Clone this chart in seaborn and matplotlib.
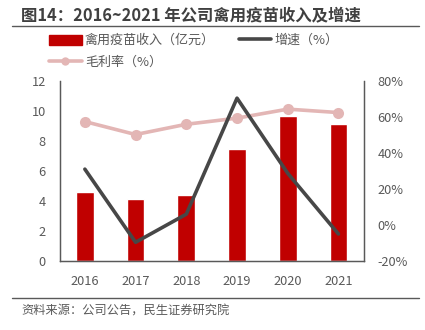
import matplotlib
matplotlib.use("Agg")
import matplotlib.pyplot as plt
import seaborn as sns
import pandas as pd
from matplotlib.lines import Line2D
from matplotlib.patches import Patch

years = ["2016", "2017", "2018", "2019", "2020", "2021"]
revenue = [4.6, 4.15, 4.42, 7.47, 9.67, 9.15]          # 亿元
growth = [31.0, -9.6, 6.0, 70.4, 28.7, -5.0]            # %
margin = [57.4, 50.2, 55.9, 59.3, 64.3, 62.4]           # %
left_ticks = [0, 2, 4, 6, 8, 10, 12]
right_ticks = [-20, 0, 20, 40, 60, 80]

sns.set_theme(style="white")
plt.rcParams['font.family'] = ['Noto Sans CJK SC', 'DejaVu Sans']
plt.rcParams['axes.unicode_minus'] = False

BAR = "#C00000"
GROW = "#474747"
MARG = "#E3B6B5"
TXT = "#595959"

df = pd.DataFrame({"year": years, "revenue": revenue, "growth": growth,
                   "margin": margin, "pos": range(len(years))})

fig = plt.figure(figsize=(4.25, 3.3), dpi=100)
ax = fig.add_axes([0.14, 0.209, 0.716, 0.546])
sns.barplot(data=df, x="year", y="revenue", color=BAR, width=0.35,
            saturation=1, ax=ax)
ax.set_ylim(0, 12)
ax.set_xlim(-0.5, 5.5)
ax.set_yticks(left_ticks)
ax.set_xlabel("")
ax.set_ylabel("")

ax2 = ax.twinx()
sns.lineplot(data=df, x="pos", y="margin", color=MARG, lw=2.6, marker="o",
             markersize=8, markeredgewidth=0, ax=ax2)
sns.lineplot(data=df, x="pos", y="growth", color=GROW, lw=2.6, ax=ax2)
ax2.set_ylim(-20, 80)
ax2.set_yticks(right_ticks)
ax2.set_yticklabels([f"{t}%" for t in right_ticks])
ax2.set_xlim(-0.5, 5.5)
ax2.set_xlabel("")
ax2.set_ylabel("")

for a in (ax, ax2):
    a.spines["top"].set_visible(False)
    for s in ("left", "right", "bottom"):
        a.spines[s].set_color("#595959")
        a.spines[s].set_linewidth(0.9)
    a.tick_params(length=0, labelsize=9.2, colors=TXT, pad=10)
ax.tick_params(axis="x", pad=10)

handles = [Patch(color=BAR),
           Line2D([], [], color=MARG, lw=2.6, marker="o", markersize=6, markeredgewidth=0),
           Line2D([], [], color=GROW, lw=2.6)]
labels = ["禽用疫苗收入（亿元）", "毛利率（%）", "增速（%）"]
fig.legend(handles, labels, ncol=2, loc="upper left", bbox_to_anchor=(0.088, 0.932),
           frameon=False, fontsize=9.4, labelcolor=TXT, handlelength=2.5,
           handleheight=0.8, handletextpad=0.25, columnspacing=1.8, labelspacing=0.68)

fig.text(0.05, 0.937, "图14：2016~2021 年公司禽用疫苗收入及增速", fontsize=11.8,
         fontweight="bold", color="#404040", va="baseline")
fig.add_artist(Line2D([0.028, 0.985], [0.922, 0.922], color="#595959", lw=1,
                      transform=fig.transFigure))
fig.add_artist(Line2D([0.028, 0.985], [0.098, 0.098], color="#595959", lw=1,
                      transform=fig.transFigure))
fig.text(0.05, 0.046, "资料来源：公司公告，民生证券研究院", fontsize=8.8, color=TXT,
         va="baseline")

fig.savefig("out.png", dpi=100)
